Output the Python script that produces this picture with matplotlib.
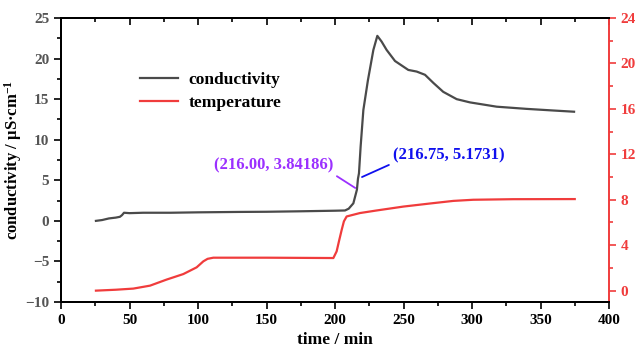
import matplotlib.pyplot as plt
from matplotlib.ticker import MultipleLocator, NullFormatter

plt.rcParams['font.family'] = ['Liberation Serif', 'DejaVu Serif']
plt.rcParams['font.weight'] = 'bold'
plt.rcParams['mathtext.fontset'] = 'custom'
plt.rcParams['mathtext.rm'] = 'Liberation Serif:bold'
plt.rcParams['mathtext.it'] = 'Liberation Serif:bold'

# --- Data ---
cond_time = [25.5, 30, 35, 40, 43, 44.5, 46, 50, 60, 80, 100, 130, 150, 175, 200,
             207.3, 210, 213.4, 216.0, 216.75, 217.5, 218.7, 220.7, 224, 228, 230.9,
             234, 237.7, 243.8, 253.5, 259.6, 265.7, 271.8, 279, 288.8, 298.5, 318,
             339.9, 359.4, 374.5]
cond_vals = [0.0, 0.1, 0.3, 0.4, 0.5, 0.7, 1.0, 0.95, 1.0, 1.0, 1.05, 1.1, 1.12, 1.18, 1.25,
             1.28, 1.5, 2.16, 3.84186, 5.1731, 5.86, 9.14, 13.66, 17.3, 21.06, 22.8,
             22.1, 21.06, 19.7, 18.6, 18.4, 18.0, 17.0, 15.9, 15.0, 14.6, 14.07,
             13.8, 13.6, 13.45]

temp_time = [25.5, 40, 52.8, 65, 77, 89.3, 99, 103.9, 107, 111.2, 150, 198.8, 201.2,
             203, 204.9, 206.5, 208.5, 218.2, 230, 249.9, 270, 286.4, 300.9, 330, 375]
temp_vals = [0.0, 0.08, 0.18, 0.44, 0.97, 1.46, 2.05, 2.58, 2.8, 2.9, 2.9, 2.87, 3.46,
             4.4, 5.36, 6.1, 6.53, 6.83, 7.05, 7.4, 7.68, 7.9, 8.0, 8.05, 8.06]

cond_color = '#4a4a4a'
temp_color = '#f03c3c'
tick_gray = '#555555'

fig = plt.figure(figsize=(6.38, 3.48), dpi=100)
ax = fig.add_axes([61 / 638, 1 - 302 / 348, 548 / 638, 284 / 348])
ax2 = ax.twinx()

l1, = ax.plot(cond_time, cond_vals, color=cond_color, lw=1.6, label='conductivity')
l2, = ax2.plot(temp_time, temp_vals, color=temp_color, lw=1.6, label='temperature')

ax.set_xlim(0, 400)
ax.set_ylim(-10, 25)
ax2.set_ylim(-1, 24)

ax.xaxis.set_major_locator(MultipleLocator(50))
ax.xaxis.set_minor_locator(MultipleLocator(25))
ax.yaxis.set_major_locator(MultipleLocator(5))
ax.yaxis.set_minor_locator(MultipleLocator(2.5))
ax2.yaxis.set_major_locator(MultipleLocator(4))
ax2.yaxis.set_minor_locator(MultipleLocator(2))

ax.tick_params(axis='x', which='both', direction='out', labelsize=11,
               labelcolor='black', width=1.2)
ax.tick_params(axis='y', which='both', direction='out', labelsize=11,
               labelcolor=tick_gray, width=1.2)
ax.tick_params(which='major', length=5)
ax.tick_params(which='minor', length=3)
ax2.tick_params(axis='y', which='both', direction='out', colors=temp_color,
                labelsize=11, width=1.2)
ax2.tick_params(which='major', length=5)
ax2.tick_params(which='minor', length=3)

# top axis: inward ticks, no labels
top = ax.secondary_xaxis('top')
top.xaxis.set_major_locator(MultipleLocator(50))
top.xaxis.set_minor_locator(MultipleLocator(25))
top.xaxis.set_major_formatter(NullFormatter())
top.tick_params(which='both', direction='in', width=1.2)
top.tick_params(which='major', length=5)
top.tick_params(which='minor', length=3)
top.spines['top'].set_linewidth(1.4)

for side in ['left', 'bottom', 'top']:
    ax.spines[side].set_linewidth(1.4)
    ax2.spines[side].set_linewidth(1.4)
ax2.spines['right'].set_color(temp_color)
ax2.spines['right'].set_linewidth(1.4)
ax.spines['right'].set_visible(False)

ax.set_xlabel('time / min', fontsize=12.5, fontweight='bold', labelpad=4)
ax.set_ylabel(r'conductivity / μS·cm$^{-1}$', fontsize=12, fontweight='bold', labelpad=1)

ax.legend(handles=[l1, l2], loc='upper left', bbox_to_anchor=(0.128, 0.84),
          frameon=False, fontsize=12.5, handlelength=2.2, handletextpad=0.6,
          labelspacing=0.4, borderpad=0)

ax.annotate('(216.00, 3.84186)', xy=(214.8, 4.05), xytext=(198.5, 6.8),
            ha='right', va='center', color='#9b30ff', fontsize=12, fontweight='bold',
            arrowprops=dict(arrowstyle='-', color='#9b30ff', lw=1.3, shrinkA=1, shrinkB=0,
                            relpos=(1.0, 0.0)))
ax.annotate('(216.75, 5.1731)', xy=(219.7, 5.4), xytext=(242.3, 8.1),
            ha='left', va='center', color='#1010ee', fontsize=12, fontweight='bold',
            arrowprops=dict(arrowstyle='-', color='#1010ee', lw=1.3, shrinkA=1, shrinkB=0,
                            relpos=(0.0, 0.0)))

fig.savefig('out.png', dpi=100)
